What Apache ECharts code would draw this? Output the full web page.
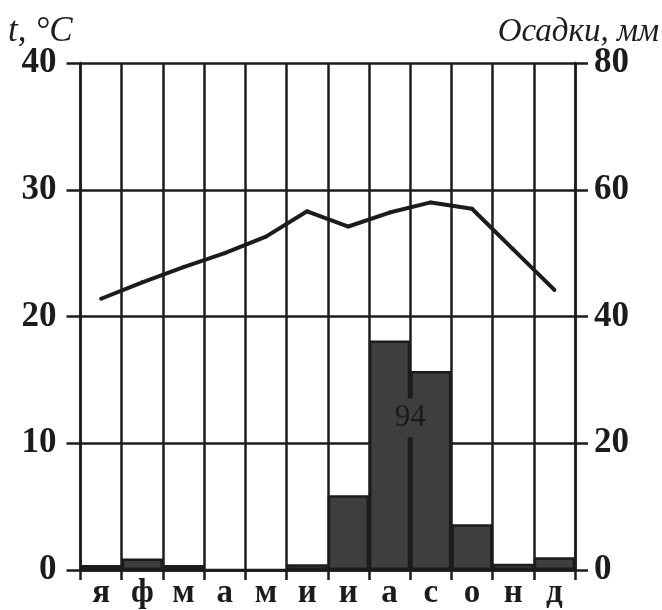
<!DOCTYPE html>
<html>
<head>
<meta charset="utf-8">
<script src="https://cdn.jsdelivr.net/npm/echarts@6/dist/echarts.min.js"></script>
<style>html,body{margin:0;padding:0;background:#fff}#c{width:662px;height:610px}</style>
</head>
<body>
<div id="c"></div>
<script>
const months = ['я','ф','м','а','м','и','и','а','с','о','н','д'];
const temperature = [21.4, 22.7, 23.9, 25.0, 26.3, 28.3, 27.1, 28.2, 29.0, 28.5, 25.3, 22.1];
const precipitation = [0.8, 1.8, 0.8, 0, 0, 0.9, 11.8, 36.2, 31.4, 7.2, 1.0, 2.0];
const tempTicks = [0, 10, 20, 30, 40];
const precTicks = [0, 20, 40, 60, 80];
const leftTitle = 't, °C';
const rightTitle = 'Осадки, мм';

const INK = '#1c1c1c';
const BAR = '#3e3e3e';
const SERIF = "'Liberation Serif', 'DejaVu Serif', serif";

const chart = echarts.init(document.getElementById('c'), null, {renderer: 'canvas'});
const axisLabelStyle = {color: INK, fontFamily: SERIF, fontWeight: 'bold', fontSize: 35};

function titles() {
  return [
    {type: 'text', left: 8, top: 14, style: {text: leftTitle, fontFamily: SERIF, fontStyle: 'italic', fontSize: 35, fill: INK}},
    {type: 'text', right: 3, top: 16, style: {text: rightTitle, fontFamily: SERIF, fontStyle: 'italic', fontSize: 33, fill: INK}}
  ];
}

chart.setOption({
  animation: false,
  backgroundColor: '#fff',
  grid: {left: 80.5, right: 87, top: 63, bottom: 38, containLabel: false},
  xAxis: {
    type: 'category',
    data: months,
    boundaryGap: true,
    axisLine: {show: true, lineStyle: {color: INK, width: 2.5}},
    axisTick: {show: true, interval: 0, length: 10, lineStyle: {color: INK, width: 2.5}},
    splitLine: {show: true, interval: 0, lineStyle: {color: INK, width: 2.5}},
    axisLabel: {interval: 0, margin: 7, color: INK, fontFamily: SERIF, fontWeight: 'bold', fontSize: 33}
  },
  yAxis: [
    {
      type: 'value', min: tempTicks[0], max: tempTicks[tempTicks.length - 1], interval: tempTicks[1] - tempTicks[0],
      position: 'left',
      axisLine: {show: true, lineStyle: {color: INK, width: 2.5}},
      axisTick: {show: true, length: 14, lineStyle: {color: INK, width: 2.5}},
      splitLine: {show: true, lineStyle: {color: INK, width: 2.5}},
      axisLabel: Object.assign({margin: 24}, axisLabelStyle)
    },
    {
      type: 'value', min: precTicks[0], max: precTicks[precTicks.length - 1], interval: precTicks[1] - precTicks[0],
      position: 'right',
      axisLine: {show: true, lineStyle: {color: INK, width: 2.5}},
      axisTick: {show: true, length: 13, lineStyle: {color: INK, width: 2.5}},
      splitLine: {show: false},
      axisLabel: Object.assign({margin: 19}, axisLabelStyle)
    }
  ],
  series: [
    {
      type: 'bar', yAxisIndex: 1, data: precipitation,
      barWidth: '100%', barCategoryGap: 0,
      itemStyle: {color: BAR, borderColor: INK, borderWidth: 2.5},
      z: 2
    },
    {
      type: 'line', yAxisIndex: 0, data: temperature,
      symbol: 'circle', symbolSize: 4, smooth: false,
      lineStyle: {color: INK, width: 4},
      itemStyle: {color: INK},
      z: 3
    }
  ],
  graphic: titles()
});

// Annual precipitation total, placed on the boundary between August and September
const total = Math.round(precipitation.reduce((a, b) => a + b, 0));
const p1 = chart.convertToPixel({xAxisIndex: 0, yAxisIndex: 1}, [7, 24]);
const p2 = chart.convertToPixel({xAxisIndex: 0, yAxisIndex: 1}, [8, 24]);
chart.setOption({
  graphic: titles().concat([
    {type: 'text', x: (p1[0] + p2[0]) / 2, y: p1[1], z: 10,
     style: {text: String(total), fontFamily: SERIF, fontSize: 31, fill: '#1a1a1a', align: 'center', verticalAlign: 'middle',
             backgroundColor: BAR, padding: [5, 1, 3, 1]}}
  ])
});
</script>
</body>
</html>
